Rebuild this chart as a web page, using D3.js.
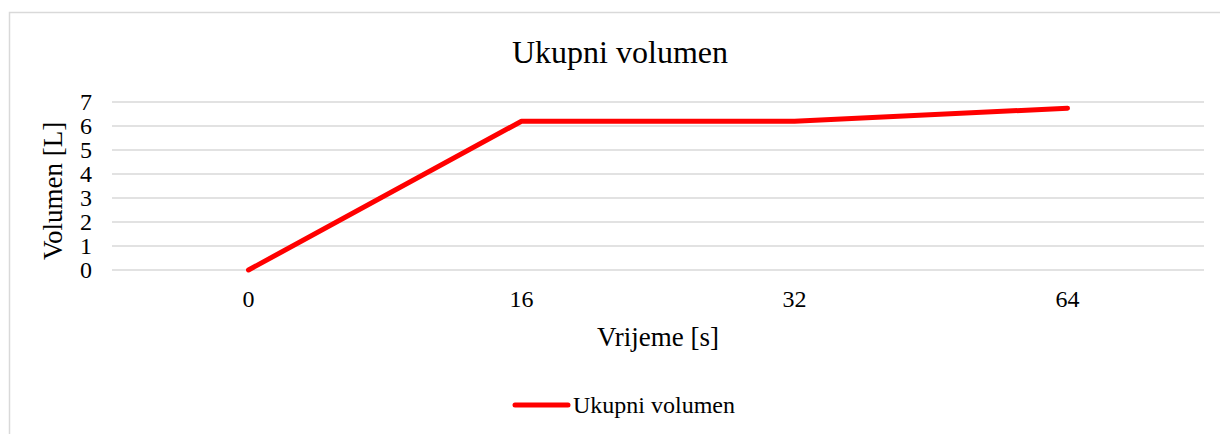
<!DOCTYPE html>
<html>
<head>
<meta charset="utf-8">
<script src="https://cdn.jsdelivr.net/npm/d3@7"></script>
<style>
  body { margin: 0; background: #fff; }
  text { font-family: "Liberation Serif", "Times New Roman", serif; fill: #000; }
</style>
</head>
<body>
<div id="stage"></div>
<script>
// chart data
var categories = ["0", "16", "32", "64"];
var volume = [0, 6.2, 6.2, 6.74];
var y_ticks = [0, 1, 2, 3, 4, 5, 6, 7];
var series_name = "Ukupni volumen";

var stage_width = 1220;
var stage_height = 434;

build_scene();

function build_scene() {
  var margin = { top: 102, left: 112, right: 16, bottom: 164 };
  var chart_width = stage_width - margin.left - margin.right;
  var chart_height = stage_height - margin.top - margin.bottom;

  var svg = d3.select("#stage")
    .append("svg")
    .attr("width", stage_width)
    .attr("height", stage_height);

  // outer chart area border
  svg.append("rect")
    .attr("x", 9.5).attr("y", 12.5)
    .attr("width", 1240).attr("height", 460)
    .attr("fill", "none")
    .attr("stroke", "#d9d9d9")
    .attr("stroke-width", 1.5);

  var g = svg.append("g")
    .attr("transform", "translate(" + margin.left + "," + margin.top + ")");

  var x = d3.scaleBand().domain(categories).range([0, chart_width]);
  var y = d3.scaleLinear().domain([0, 7]).range([chart_height, 0]);

  // gridlines
  g.selectAll("line.grid")
    .data(y_ticks)
    .enter()
    .append("line")
    .attr("class", "grid")
    .attr("x1", 0).attr("x2", chart_width)
    .attr("y1", function(d) { return y(d); })
    .attr("y2", function(d) { return y(d); })
    .attr("stroke", "#d9d9d9")
    .attr("stroke-width", 1.5);

  // y axis
  var yAxis = g.append("g")
    .call(d3.axisLeft(y).tickValues(y_ticks).tickFormat(d3.format("d")).tickSize(0).tickPadding(20));
  yAxis.select(".domain").remove();
  yAxis.selectAll("text")
    .attr("font-size", "24px")
    .attr("fill", "#000");

  // x axis
  var xAxis = g.append("g")
    .attr("transform", "translate(0," + chart_height + ")")
    .call(d3.axisBottom(x).tickSize(0).tickPadding(20));
  xAxis.select(".domain").remove();
  xAxis.selectAll("text")
    .attr("font-size", "24px")
    .attr("fill", "#000");

  // the line
  var line = d3.line()
    .x(function(d, i) { return x(categories[i]) + x.bandwidth() / 2; })
    .y(function(d) { return y(d); });

  g.append("path")
    .datum(volume)
    .attr("d", line)
    .attr("fill", "none")
    .attr("stroke", "#ff0000")
    .attr("stroke-width", 5)
    .attr("stroke-linejoin", "round")
    .attr("stroke-linecap", "round");

  // titles
  svg.append("text")
    .attr("x", 620).attr("y", 63)
    .attr("text-anchor", "middle")
    .attr("font-size", "32px")
    .text("Ukupni volumen");

  svg.append("text")
    .attr("x", margin.left + chart_width / 2).attr("y", 346)
    .attr("text-anchor", "middle")
    .attr("font-size", "27px")
    .text("Vrijeme [s]");

  svg.append("text")
    .attr("transform", "translate(62,191) rotate(-90)")
    .attr("text-anchor", "middle")
    .attr("font-size", "27px")
    .text("Volumen [L]");

  // legend
  var legend = svg.append("g").attr("transform", "translate(515,405)");
  legend.append("line")
    .attr("x1", 0).attr("x2", 53)
    .attr("y1", 0).attr("y2", 0)
    .attr("stroke", "#ff0000")
    .attr("stroke-width", 5)
    .attr("stroke-linecap", "round");
  legend.append("text")
    .attr("x", 58).attr("y", 8)
    .attr("font-size", "24px")
    .text(series_name);
}
</script>
</body>
</html>
